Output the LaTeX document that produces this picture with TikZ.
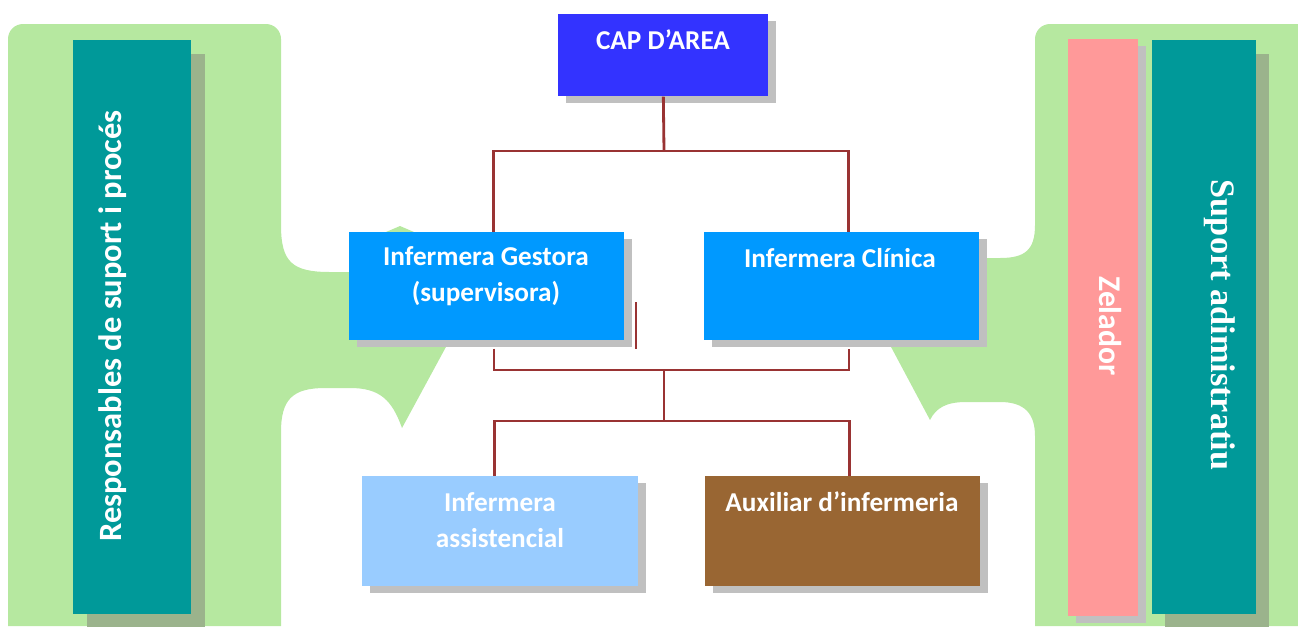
\documentclass[tikz,border=0pt]{standalone}
\usepackage{fontspec}
\setmainfont{Carlito}
\newfontfamily\serifb{Liberation Serif}
\usetikzlibrary{shadows}
\definecolor{grn}{HTML}{B6E8A0}
\definecolor{tealbar}{HTML}{009999}
\definecolor{pinkbar}{HTML}{FF9999}
\definecolor{capblue}{HTML}{3333FF}
\definecolor{midblue}{HTML}{0099FF}
\definecolor{lightblue}{HTML}{99CCFF}
\definecolor{brownbox}{HTML}{996633}
\definecolor{linkred}{HTML}{993333}
\definecolor{shgray}{HTML}{C0C0C0}
\definecolor{shgreen}{HTML}{9BB38C}
\begin{document}
\begin{tikzpicture}[x=0.02cm,y=-0.02cm,
    box/.style={anchor=north west,inner sep=0pt,minimum width=5.5cm,minimum height=2.16cm,
        drop shadow={shadow xshift=0.16cm,shadow yshift=-0.14cm,opacity=1,fill=shgray}},
    bar/.style={anchor=north west,inner sep=0pt,minimum height=11.48cm},
    lbl/.style={text=white,align=center,font=\fontsize{15.5}{20.4}\selectfont\bfseries},
    link/.style={draw=linkred,line width=1.6pt}]
        \useasboundingbox (0,0) rectangle (1298,626);

        % green backgrounds
        \fill[grn] (281,626) -- (8,626) {[rounded corners=0.3cm] -- (8,24) -- (281,24)} -- (281,225)
            .. controls (281,262) and (292,272) .. (330,272) -- (386,272) -- (386,232) -- (400,226) -- (414,232)
            -- (460,300) -- (447,345) -- (402,428) .. controls (392,400) and (380,388) .. (350,388)
            -- (325,388) .. controls (292,388) and (281,400) .. (281,432) -- cycle;
        \fill[grn] (1035,626) -- (1298,626) -- (1298,24) {[rounded corners=0.3cm] -- (1035,24)} -- (1035,225)
            .. controls (1035,250) and (1025,258) .. (1000,258) -- (960,258) -- (960,345) -- (890,345)
            -- (930,420) .. controls (936,408) and (946,402) .. (966,402) -- (1000,402)
            .. controls (1025,402) and (1035,414) .. (1035,436) -- cycle;

        % side bars
        \node [bar,minimum width=2.36cm,fill=tealbar,drop shadow={shadow xshift=0.28cm,shadow yshift=-0.28cm,opacity=1,fill=shgreen}](resp)at(73,40){};
        \node [bar,minimum width=1.4cm,minimum height=11.54cm,fill=pinkbar,drop shadow={shadow xshift=0.16cm,shadow yshift=-0.14cm,opacity=1,fill=shgray}](zel)at(1068,39){};
        \node [bar,minimum width=2.08cm,fill=tealbar,drop shadow={shadow xshift=0.26cm,shadow yshift=-0.28cm,opacity=1,fill=shgreen}](adm)at(1152,40){};
        \node [lbl,rotate=90,font=\fontsize{18.5}{22}\selectfont\bfseries](resptxt)at(113,326){Responsables de suport i procés};
        \node [lbl,rotate=-90,font=\fontsize{18}{22}\selectfont\bfseries](zeltxt)at(1110,326){Zelador};
        \node [lbl,rotate=-90,font=\fontsize{19.5}{22}\selectfont\serifb\bfseries](admtxt)at(1220,325){Suport adimistratiu};

        % chart boxes
        \node [box,minimum width=4.2cm,minimum height=1.64cm,fill=capblue](cap)at(558,14){};
        \node [box,fill=midblue](gest)at(349,232){};
        \node [box,fill=midblue](clin)at(704,232){};
        \node [box,minimum width=5.52cm,minimum height=2.2cm,fill=lightblue](asst)at(362,476){};
        \node [box,minimum height=2.2cm,fill=brownbox](aux)at(705,476){};

        \node [lbl](captxt)at(663,40){CAP D’AREA};
        \node [lbl](gesttxt)at(486,276){Infermera Gestora\\(supervisora)};
        \node [lbl](clintxt)at(840,258){Infermera Clínica};
        \node [lbl](assttxt)at(500,520){Infermera\\assistencial};
        \node [lbl](auxtxt)at(842,502){Auxiliar d’infermeria};

        % connectors
        \coordinate (top)at(664,151);
        \coordinate (mid)at(664,370);
        \coordinate (low)at(664,421);
        \coordinate (st)at(636,302);
        \coordinate (sb)at(636,349);

        \draw[link] (cap.south) -- (top);
        \draw[link] (top) -| ([xshift=0.14cm]gest.north);
        \draw[link] (top) -| ([xshift=0.14cm]clin.north);
        \draw[link,line width=1.2pt] ([shift={(0.14cm,-0.16cm)}]gest.south) |- (mid) -| ([shift={(0.14cm,-0.16cm)}]clin.south);
        \draw[link,line width=1.2pt] (mid) -- (low);
        \draw[link] (low) -| ([xshift=-0.12cm]asst.north);
        \draw[link] (low) -| ([xshift=0.13cm]aux.north);
        \draw[link,line width=1.2pt] (st) -- (sb);
    \end{tikzpicture}
\end{document}
